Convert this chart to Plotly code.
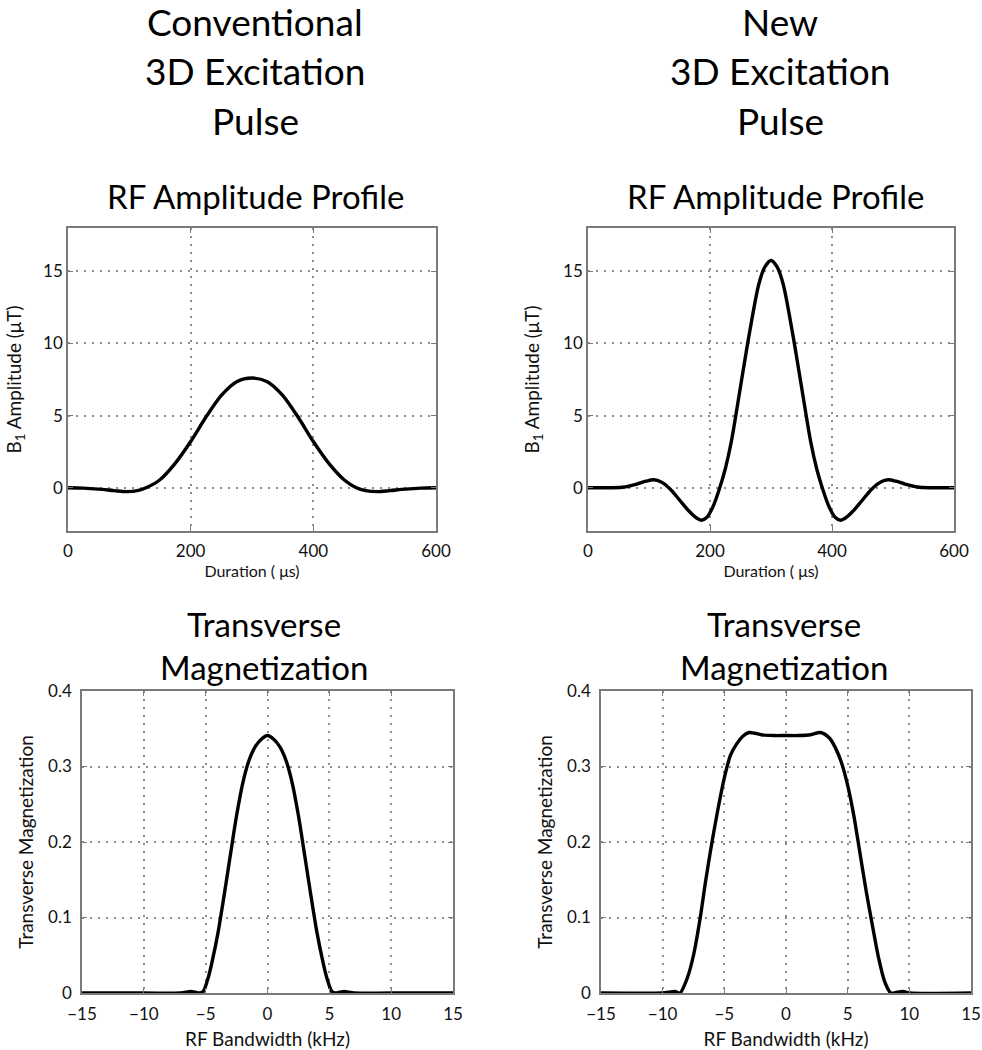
import plotly.graph_objects as go

# ---------------- data ----------------
conv_t = [0, 25, 50, 75, 95, 115, 130, 150, 175, 200, 225, 250, 275, 300,
          325, 350, 375, 400, 425, 450, 470, 485, 505, 525, 550, 575, 600]
conv_b1 = [0, -0.03, -0.1, -0.2, -0.27, -0.18, 0.05, 0.55, 1.7, 3.2, 4.9, 6.4, 7.35, 7.6,
           7.35, 6.4, 4.9, 3.2, 1.7, 0.55, 0.0, -0.2, -0.27, -0.2, -0.1, -0.03, 0]

new_t = [0, 40, 60, 80, 95, 108, 120, 135, 150, 165, 178, 186, 195, 205, 216, 225, 235,
         250, 265, 280, 290, 300, 310, 320, 335, 350, 365, 375, 384, 395, 405, 414, 422,
         435, 450, 465, 480, 492, 505, 520, 540, 560, 600]
new_b1 = [0, 0, 0.05, 0.25, 0.45, 0.55, 0.4, -0.1, -0.85, -1.6, -2.1, -2.25, -2.05, -1.3, 0,
          1.3, 3.2, 7.0, 10.8, 14.1, 15.3, 15.75, 15.3, 14.1, 10.8, 7.0, 3.2, 1.3, 0, -1.3,
          -2.05, -2.25, -2.1, -1.6, -0.85, -0.1, 0.4, 0.55, 0.45, 0.25, 0.05, 0, 0]

conv_bw = [-15, -10, -7, -6.6, -6.2, -5.8, -5.5, -5.2, -4.8, -4.5, -4, -3.5, -3, -2.5, -2,
           -1.5, -1, -0.5, 0, 0.5, 1, 1.5, 2, 2.5, 3, 3.5, 4, 4.5, 4.8, 5.2, 5.5, 5.8, 6.2,
           6.6, 7, 10, 15]
conv_mxy = [0, 0, 0, 0.001, 0.002, 0.001, 0, 0.002, 0.02, 0.04, 0.08, 0.13, 0.183, 0.235,
            0.278, 0.308, 0.326, 0.336, 0.341, 0.336, 0.326, 0.308, 0.278, 0.235, 0.183,
            0.13, 0.08, 0.04, 0.02, 0.002, 0, 0.001, 0.002, 0.001, 0, 0, 0]

new_bw = [-15, -10, -9.5, -9, -8.6, -8, -7.5, -7, -6.5, -6, -5.5, -5, -4.5, -4, -3.5, -3,
          -2.5, -2, -1, 0, 1, 2, 2.8, 3.5, 4, 4.5, 5, 5.5, 6, 6.5, 7, 7.5, 8, 8.5, 9, 9.5,
          10, 15]
new_mxy = [0, 0, 0.001, 0.002, 0, 0.02, 0.05, 0.095, 0.15, 0.2, 0.245, 0.285, 0.315, 0.33,
           0.34, 0.345, 0.344, 0.342, 0.341, 0.341, 0.341, 0.342, 0.345, 0.338, 0.325, 0.305,
           0.275, 0.235, 0.185, 0.135, 0.09, 0.047, 0.015, 0.0, 0.001, 0.002, 0, 0]

rf_xticks = [0, 200, 400, 600]
rf_yticks = [0, 5, 10, 15]
bw_xticks = [-15, -10, -5, 0, 5, 10, 15]
bw_yticks = [0, 0.1, 0.2, 0.3, 0.4]

col_titles = [["Conventional", "3D Excitation", "Pulse"], ["New", "3D Excitation", "Pulse"]]
rf_title = "RF Amplitude Profile"
mxy_title = ["Transverse", "Magnetization"]

# ---------------- figure ----------------
W, H = 982, 1050
FONT = "Lato, 'Open Sans', sans-serif"


def px_x(p):
    return p / W


def px_y(p):
    return 1 - p / H


fig = go.Figure()
line = dict(color="black", width=3.4, shape="spline", smoothing=0.8)
fig.add_trace(go.Scatter(x=conv_t, y=conv_b1, mode="lines", line=line, xaxis="x", yaxis="y", showlegend=False))
fig.add_trace(go.Scatter(x=new_t, y=new_b1, mode="lines", line=line, xaxis="x2", yaxis="y2", showlegend=False))
fig.add_trace(go.Scatter(x=conv_bw, y=conv_mxy, mode="lines", line=line, xaxis="x3", yaxis="y3", showlegend=False))
fig.add_trace(go.Scatter(x=new_bw, y=new_mxy, mode="lines", line=line, xaxis="x4", yaxis="y4", showlegend=False))

frame = "#7a7a7a"
grid = "#8c8c8c"
tickfont = dict(family=FONT, size=17, color="#111111")


def ax(domain, anchor, rng, ticks, title, tsize, standoff, labgap):
    return dict(domain=domain, anchor=anchor, range=rng, tickvals=ticks,
                showline=True, linecolor=frame, linewidth=1.5, mirror="ticks",
                ticks="inside", ticklen=5, tickcolor=frame, tickwidth=1,
                showgrid=True, gridcolor=grid, griddash="2px,6px", gridwidth=1.6,
                zeroline=False, tickfont=tickfont, ticklabelstandoff=labgap,
                ticklabeloverflow="allow",
                title=dict(text=title, font=dict(family=FONT, size=tsize, color="#111111"),
                           standoff=standoff),
                automargin=False, fixedrange=True)


pos = {
    "TL": (68, 436, 228, 531),
    "TR": (588, 954, 228, 531),
    "BL": (82, 453, 691, 993),
    "BR": (601, 971, 691, 993),
}


def xd(k):
    a, b, _, _ = pos[k]
    return [px_x(a), px_x(b)]


def yd(k):
    _, _, t, bt = pos[k]
    return [px_y(bt), px_y(t)]


b1_title = "B<sub>1</sub> Amplitude (\u03bcT)"
mxy_ytitle = "Transverse Magnetization"
dur_title = "Duration ( \u03bcs)"
bw_title = "RF Bandwidth (kHz)"

fig.update_layout(
    width=W, height=H, margin=dict(l=0, r=0, t=0, b=0),
    paper_bgcolor="white", plot_bgcolor="white", showlegend=False,
    xaxis=ax(xd("TL"), "y", [0, 600], rf_xticks, dur_title, 16, 4, 4),
    yaxis=ax(yd("TL"), "x", [-3, 18], rf_yticks, b1_title, 19, 16, 0),
    xaxis2=ax(xd("TR"), "y2", [0, 600], rf_xticks, dur_title, 16, 4, 4),
    yaxis2=ax(yd("TR"), "x2", [-3, 18], rf_yticks, b1_title, 19, 18, 0),
    xaxis3=ax(xd("BL"), "y3", [-15, 15], bw_xticks, bw_title, 19, 12, 5),
    yaxis3=ax(yd("BL"), "x3", [0, 0.4], bw_yticks, mxy_ytitle, 19, 9, 5),
    xaxis4=ax(xd("BR"), "y4", [-15, 15], bw_xticks, bw_title, 19, 12, 5),
    yaxis4=ax(yd("BR"), "x4", [0, 0.4], bw_yticks, mxy_ytitle, 19, 9, 5),
)

anns = []


def add_text(txt, cx, cy, size):
    anns.append(dict(text=txt, x=px_x(cx), y=px_y(cy), xref="paper", yref="paper",
                     xanchor="center", yanchor="middle", showarrow=False,
                     font=dict(family=FONT, size=size, color="black")))


for col, cx in zip(col_titles, [255, 780]):
    for line_txt, cy in zip(col, [22, 71, 120]):
        add_text(line_txt, cx, cy, 37)
add_text(rf_title, 255, 196, 33)
add_text(rf_title, 775, 196, 33)
for cx in [264, 784]:
    add_text(mxy_title[0], cx, 624, 33)
    add_text(mxy_title[1], cx, 667, 33)

fig.update_layout(annotations=anns)
# remove the default 8px page margin so the 982x1050 figure fills the window exactly
fig.write_html("out.html", config={"displayModeBar": False},
               post_script="document.body.style.margin='0px';")
